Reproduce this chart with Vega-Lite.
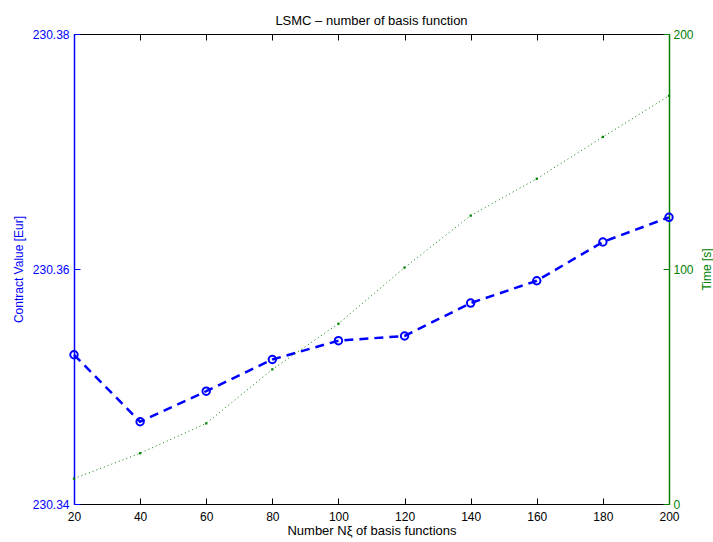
{
  "$schema": "https://vega.github.io/schema/vega-lite/v6.json",
  "width": 595,
  "height": 470,
  "autosize": {"type": "none"},
  "padding": {"left": 74, "top": 34, "right": 44, "bottom": 38},
  "background": "white",
  "config": {
    "view": {"stroke": null},
    "font": "Liberation Sans",
    "axis": {"grid": false, "labelFont": "Liberation Sans", "titleFont": "Liberation Sans", "labelFontSize": 12, "titleFontSize": 12, "titleFontWeight": "normal"}
  },
  "title": {"text": "LSMC – number of basis function", "fontSize": 13, "fontWeight": "normal", "font": "Liberation Sans", "color": "black", "offset": 0},
  "datasets": {
    "d": [
      {"n": 20, "value": 230.3527, "time": 10.8},
      {"n": 40, "value": 230.3470, "time": 21.6},
      {"n": 60, "value": 230.3496, "time": 34.3},
      {"n": 80, "value": 230.3523, "time": 57.3},
      {"n": 100, "value": 230.3539, "time": 76.7},
      {"n": 120, "value": 230.3543, "time": 100.6},
      {"n": 140, "value": 230.3571, "time": 122.7},
      {"n": 160, "value": 230.3590, "time": 138.4},
      {"n": 180, "value": 230.3623, "time": 156.2},
      {"n": 200, "value": 230.3644, "time": 173.7}
    ]
  },
  "data": {"name": "d"},
  "layer": [
    {
      "mark": {"type": "line", "color": "#0000ff", "strokeWidth": 2.5, "strokeDash": [9, 6], "clip": false,
               "point": {"filled": false, "shape": "circle", "size": 55, "strokeWidth": 2, "color": "#0000ff", "fill": "white", "fillOpacity": 0}},
      "encoding": {
        "x": {"field": "n", "type": "quantitative", "scale": {"domain": [20, 200], "nice": false, "zero": false},
              "axis": {"orient": "bottom", "values": [20, 40, 60, 80, 100, 120, 140, 160, 180, 200], "ticks": true, "tickSize": -6, "tickWidth": 1, "labelPadding": 13, "domainColor": "black", "tickColor": "black", "labelColor": "black", "titleColor": "black", "title": "Number Nξ of basis functions", "titleFontSize": 13, "titlePadding": 2, "labelFlush": false}},
        "y": {"field": "value", "type": "quantitative", "scale": {"domain": [230.34, 230.38], "nice": false, "zero": false},
              "axis": {"orient": "left", "values": [230.34, 230.36, 230.38], "format": ".2f", "ticks": true, "tickSize": -6, "tickWidth": 1, "labelPadding": 11, "domainColor": "#0000ff", "domainWidth": 1.5, "tickColor": "#0000ff", "labelColor": "#0000ff", "titleColor": "#0000ff", "title": "Contract Value [Eur]", "titlePadding": 7, "labelFlush": false}}
      }
    },
    {
      "mark": {"type": "line", "color": "#008000", "strokeWidth": 1, "strokeDash": [1, 3], "clip": false,
               "point": {"filled": true, "shape": "square", "size": 5, "color": "#008000"}},
      "encoding": {
        "x": {"field": "n", "type": "quantitative",
              "axis": {"orient": "top", "values": [20, 40, 60, 80, 100, 120, 140, 160, 180, 200], "ticks": true, "tickSize": -6, "tickWidth": 1, "tickColor": "black", "labels": false, "title": null, "domainColor": "black"}},
        "y": {"field": "time", "type": "quantitative", "scale": {"domain": [0, 200], "nice": false},
              "axis": {"orient": "right", "values": [0, 100, 200], "ticks": true, "tickSize": -6, "tickWidth": 1, "labelPadding": 10, "domainColor": "#008000", "domainWidth": 1.5, "tickColor": "#008000", "labelColor": "#008000", "titleColor": "#008000", "title": "Time [s]", "titleAngle": -90, "titlePadding": 20, "labelFlush": false}}
      }
    }
  ],
  "resolve": {"scale": {"y": "independent"}, "axis": {"x": "independent"}}
}
